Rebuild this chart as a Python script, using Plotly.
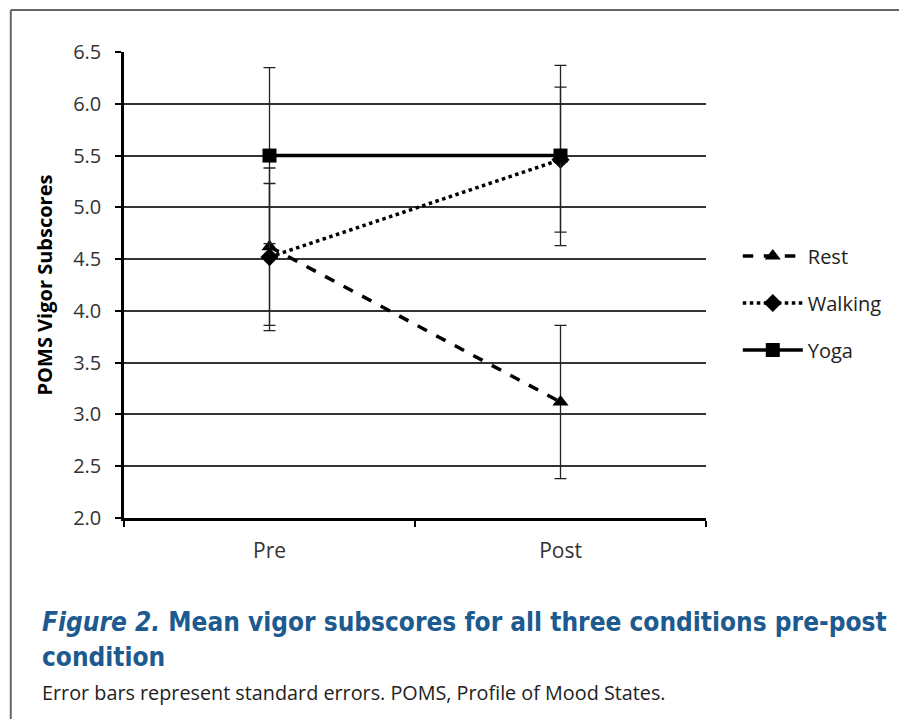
import plotly.graph_objects as go

phases = ["Pre", "Post"]
rest = [4.62, 3.12]
rest_se = [0.76, 0.74]
walking = [4.52, 5.46]
walking_se = [0.71, 0.70]
yoga = [5.50, 5.50]
yoga_se = [0.85, 0.87]
y_ticks = [2.0, 2.5, 3.0, 3.5, 4.0, 4.5, 5.0, 5.5, 6.0, 6.5]

FONT = "Open Sans"
OFF = 8  # page body margin
W, H = 907 - 2 * OFF, 727 - 2 * OFF
# target plot area in screenshot pixels: x 124..710, y 52..518
L, T = 124 - OFF, 52 - OFF
PW, PH = 586, 466
R = W - L - PW
B = H - T - PH

def py(p):
    return (T + PH - (p - OFF)) / PH

def px(p):
    return ((p - OFF) - L) / PW

fig = go.Figure()
specs = [
    ("Rest", rest, rest_se, "dash", "triangle-up"),
    ("Walking", walking, walking_se, "dot", "diamond"),
    ("Yoga", yoga, yoga_se, "solid", "square"),
]
for name, vals, se, dash, sym in specs:
    fig.add_trace(go.Scatter(
        x=phases, y=vals, name=name, mode="lines+markers", legendgroup=name,
        line=dict(color="black", width=3.5, dash=dash),
        marker=dict(symbol=sym, size=14, color="black"),
        error_y=dict(type="data", array=se, visible=True, color="#222", thickness=1.3, width=6),
    ))

fig.update_layout(
    width=W, height=H,
    margin=dict(l=L, r=R, t=T, b=B),
    paper_bgcolor="white", plot_bgcolor="white",
    font=dict(family=FONT, color="#222"),
    legend=dict(x=px(742), y=py(303), xanchor="left", yanchor="middle",
                font=dict(size=20, color="#222"), tracegroupgap=18,
                itemwidth=60, bgcolor="rgba(0,0,0,0)"),
    yaxis=dict(range=[2.0, 6.5], tickvals=y_ticks, ticktext=[f"{v:.1f}" for v in y_ticks],
               showgrid=True, gridcolor="#333", gridwidth=1.5,
               showline=True, linecolor="black", linewidth=2.5,
               ticks="outside", ticklen=6, tickcolor="black", tickwidth=2,
               ticklabelstandoff=10,
               tickfont=dict(size=20, color="#333"), zeroline=False,
               title=dict(text="<b>POMS Vigor Subscores</b>", font=dict(size=20, color="black"), standoff=16)),
    xaxis=dict(range=[-0.5, 1.5], showgrid=False, showline=True, linecolor="black", linewidth=3,
               ticks="outside", tickson="boundaries", ticklen=6, tickcolor="black", tickwidth=2,
               ticklabelstandoff=12,
               tickfont=dict(size=21, color="#333"), zeroline=False),
)

# frame: only top and left edges are visible in the reference
fig.add_shape(type="line", xref="paper", yref="paper",
              x0=px(10), x1=px(960), y0=py(10), y1=py(10),
              line=dict(color="#666", width=2), layer="below")
fig.add_shape(type="line", xref="paper", yref="paper",
              x0=px(10), x1=px(10), y0=py(10), y1=py(780),
              line=dict(color="#666", width=2), layer="below")

blue = "#1c5a8f"
fig.add_annotation(xref="paper", yref="paper", x=px(39), y=py(622), xanchor="left", yanchor="middle",
                   text="<b><i>Figure 2.</i> Mean vigor subscores for all three conditions pre-post</b>",
                   showarrow=False, font=dict(family="DejaVu Sans Condensed", size=26, color=blue))
fig.add_annotation(xref="paper", yref="paper", x=px(39), y=py(657), xanchor="left", yanchor="middle",
                   text="<b>condition</b>",
                   showarrow=False, font=dict(family="DejaVu Sans Condensed", size=26, color=blue))
fig.add_annotation(xref="paper", yref="paper", x=px(39), y=py(692), xanchor="left", yanchor="middle",
                   text="Error bars represent standard errors. POMS, Profile of Mood States.",
                   showarrow=False, font=dict(family="Open Sans", size=19.8, color="#222"))

fig.write_html("out.html")
